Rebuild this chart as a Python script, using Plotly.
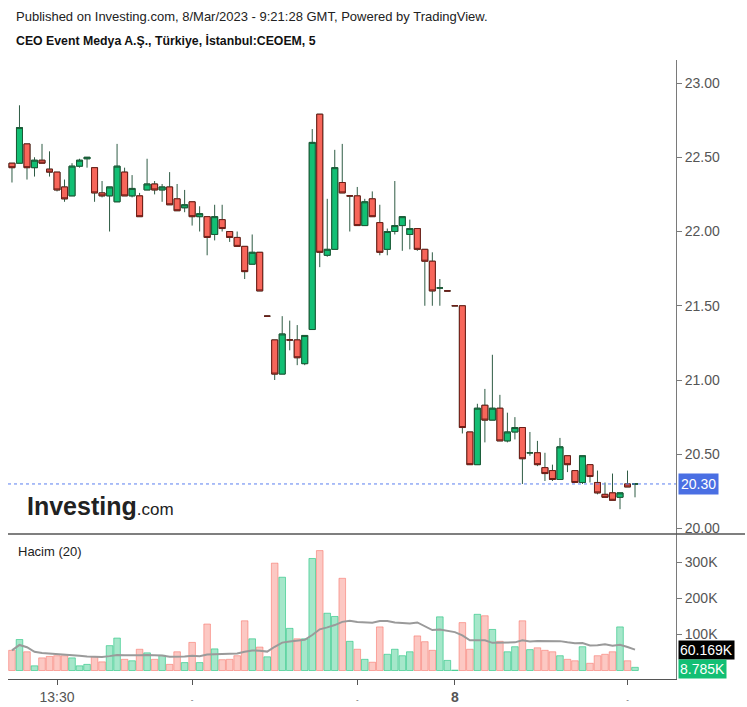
import plotly.graph_objects as go
import pandas as pd

# ---- data (5-minute candles, CEOEM) ----
opens = [22.46, 22.46, 22.59, 22.43, 22.48, 22.42, 22.40, 22.30, 22.24, 22.44,
         22.49, 22.43, 22.26, 22.24, 22.20, 22.40, 22.24, 22.24, 22.28, 22.32,
         22.28, 22.30, 22.22, 22.16, 22.20, 22.10, 22.10, 21.98, 22.08, 22.00,
         21.96, 21.90, 21.78, 21.86, 21.43, 21.27, 21.04, 21.27, 21.27, 21.11,
         21.34, 22.79, 21.84, 21.88, 22.33, 22.24, 22.24, 22.04, 22.22, 22.06,
         21.88, 22.00, 22.04, 21.98, 22.02, 21.88, 21.80, 21.62, 21.60, 21.50,
         21.50, 20.65, 20.43, 20.83, 20.73, 20.81, 20.59, 20.65, 20.68, 20.51,
         20.51, 20.41, 20.39, 20.33, 20.49, 20.39, 20.31, 20.43, 20.31, 20.23,
         20.24, 20.21, 20.30, 20.30]
highs = [22.46, 22.85, 22.59, 22.50, 22.59, 22.54, 22.40, 22.35, 22.46, 22.49,
         22.50, 22.43, 22.34, 22.30, 22.59, 22.43, 22.38, 22.26, 22.49, 22.34,
         22.32, 22.40, 22.32, 22.28, 22.20, 22.17, 22.10, 22.18, 22.18, 22.00,
         22.00, 21.90, 21.98, 21.86, 21.43, 21.27, 21.43, 21.40, 21.37, 21.30,
         22.69, 22.79, 22.22, 22.55, 22.59, 22.24, 22.30, 22.22, 22.27, 22.18,
         22.02, 22.34, 22.10, 22.08, 22.02, 21.88, 21.86, 21.68, 21.60, 21.50,
         21.50, 20.65, 20.84, 20.94, 21.17, 20.90, 20.78, 20.75, 20.68, 20.65,
         20.59, 20.51, 20.43, 20.61, 20.49, 20.39, 20.49, 20.43, 20.39, 20.31,
         20.37, 20.24, 20.39, 20.30]
lows = [22.33, 22.46, 22.35, 22.37, 22.46, 22.37, 22.27, 22.20, 22.24, 22.43,
        22.43, 22.20, 22.23, 22.00, 22.20, 22.24, 22.23, 22.10, 22.28, 22.25,
        22.20, 22.18, 22.14, 22.13, 22.04, 22.00, 21.84, 21.94, 22.00, 21.93,
        21.90, 21.68, 21.78, 21.60, 21.43, 21.00, 21.04, 21.20, 21.10, 21.10,
        21.34, 21.76, 21.83, 21.88, 22.26, 22.00, 22.04, 22.04, 22.10, 21.84,
        21.84, 21.98, 21.87, 21.88, 21.87, 21.50, 21.50, 21.50, 21.60, 21.50,
        20.64, 20.43, 20.43, 20.58, 20.73, 20.59, 20.58, 20.60, 20.30, 20.49,
        20.42, 20.32, 20.32, 20.33, 20.38, 20.31, 20.30, 20.31, 20.23, 20.21,
        20.19, 20.13, 20.28, 20.21]
closes = [22.43, 22.70, 22.43, 22.48, 22.46, 22.40, 22.28, 22.22, 22.44, 22.48,
          22.50, 22.26, 22.24, 22.30, 22.44, 22.24, 22.29, 22.10, 22.32, 22.28,
          22.30, 22.18, 22.14, 22.18, 22.10, 22.12, 21.96, 22.10, 22.02, 21.96,
          21.90, 21.73, 21.86, 21.60, 21.43, 21.04, 21.31, 21.27, 21.15, 21.30,
          22.60, 21.86, 21.88, 22.43, 22.26, 22.24, 22.04, 22.20, 22.10, 21.86,
          22.00, 22.04, 22.10, 22.02, 21.88, 21.80, 21.60, 21.62, 21.60, 21.50,
          20.68, 20.43, 20.81, 20.73, 20.81, 20.59, 20.65, 20.68, 20.47, 20.51,
          20.43, 20.37, 20.33, 20.55, 20.43, 20.31, 20.49, 20.35, 20.24, 20.21,
          20.19, 20.24, 20.28, 20.30]
volumes_k = [56, 86, 52, 13, 35, 39, 41, 41, 35, 13,
             17, 38, 24, 69, 90, 31, 27, 59, 49, 31,
             42, 17, 52, 22, 78, 22, 129, 60, 30, 31,
             41, 138, 88, 65, 38, 298, 259, 117, 88, 88,
             311, 333, 159, 150, 256, 81, 59, 31, 23, 121,
             45, 59, 41, 52, 96, 80, 56, 149, 28, 1,
             133, 59, 156, 152, 114, 81, 52, 66, 138, 58,
             63, 56, 52, 41, 31, 27, 66, 20, 41, 45,
             52, 121, 27, 8.785]

x_tick_pos = [6, 24, 46, 59, 82]
x_tick_text = ["13:30",
               "<span style='font-size:8px'>-</span>",
               "<span style='font-size:8px'>-</span>",
               "<b>8</b>",
               "<span style='font-size:8px'>-</span>"]
price_ticks = [20.0, 20.5, 21.0, 21.5, 22.0, 22.5, 23.0]
vol_ticks = [100, 200, 300]
vol_tick_text = ["100K", "200K", "300K"]
last_price = 20.30
ma_label = "60.169K"
vol_label = "8.785K"

# ---- derived ----
n = len(closes)
xs = list(range(n))
up = [c >= o for o, c in zip(opens, closes)]
body_hi = [max(o, c) for o, c in zip(opens, closes)]
body_lo = [min(o, c) for o, c in zip(opens, closes)]
vol_ma = pd.Series(volumes_k).rolling(20, min_periods=1).mean().tolist()

GREEN = "#12bf74"
RED = "#f7665a"
WICK = "#2f5c45"
FONT = "Liberation Sans, Arial, sans-serif"

fig = go.Figure()

fig.add_trace(go.Candlestick(
    x=xs, open=opens, high=highs, low=lows, close=closes,
    increasing=dict(line=dict(color=WICK, width=1), fillcolor=GREEN),
    decreasing=dict(line=dict(color=WICK, width=1), fillcolor=RED),
    whiskerwidth=0, hoverinfo="skip", showlegend=False,
    xaxis="x", yaxis="y"))
fig.add_trace(go.Candlestick(
    x=xs, open=opens, high=body_hi, low=body_lo, close=closes,
    increasing=dict(line=dict(color="#1b5a36", width=1), fillcolor=GREEN),
    decreasing=dict(line=dict(color="#6e1c16", width=1), fillcolor=RED),
    whiskerwidth=0, hoverinfo="skip", showlegend=False,
    xaxis="x", yaxis="y"))

vol_fill = ["rgba(18,191,116,0.38)" if u else "rgba(247,102,90,0.36)" for u in up]
vol_line = ["rgba(18,191,116,0.55)" if u else "rgba(247,102,90,0.5)" for u in up]
fig.add_trace(go.Bar(
    x=xs, y=volumes_k, marker=dict(color=vol_fill, line=dict(color=vol_line, width=1)),
    showlegend=False, hoverinfo="skip", xaxis="x", yaxis="y2"))
fig.add_trace(go.Scatter(
    x=xs, y=vol_ma, mode="lines", line=dict(color="#9a9a9a", width=2),
    showlegend=False, hoverinfo="skip", xaxis="x", yaxis="y2"))

W, H = 747, 707
ml, mr, mt, mb = 8, 71, 60, 28
pw = W - ml - mr
ph = H - mt - mb
vol_frac = 145 / ph

fig.update_layout(
    width=W, height=H,
    margin=dict(l=ml, r=mr, t=mt, b=mb, autoexpand=False),
    paper_bgcolor="white", plot_bgcolor="white",
    font=dict(family=FONT, size=14, color="#555555"),
    boxgap=0.2, boxgroupgap=0, bargap=0.12,
    showlegend=False,
    xaxis=dict(domain=[0, 1], anchor="y2", range=[-0.53, 88.46], automargin=False,
               rangeslider=dict(visible=False),
               showgrid=False, zeroline=False,
               showline=True, linecolor="#555555", linewidth=1,
               ticks="outside", ticklen=5, tickcolor="#555555",
               tickmode="array", tickvals=x_tick_pos, ticktext=x_tick_text,
               tickfont=dict(size=14, color="#555555")),
    yaxis=dict(domain=[vol_frac, 1], anchor="x", side="right", automargin=False,
               range=[19.963, 23.155],
               showgrid=False, zeroline=False,
               showline=True, linecolor="#7a7a7a", linewidth=1,
               ticks="outside", ticklen=5, tickcolor="#7a7a7a",
               tickvals=price_ticks, tickformat=".2f",
               tickfont=dict(size=14, color="#555555")),
    yaxis2=dict(domain=[0, vol_frac], anchor="x", side="right", automargin=False,
                range=[-23.6, 379],
                showgrid=False, zeroline=False,
                showline=True, linecolor="#7a7a7a", linewidth=1,
                ticks="outside", ticklen=5, tickcolor="#7a7a7a",
                tickvals=vol_ticks, ticktext=vol_tick_text,
                tickfont=dict(size=14, color="#555555")),
)

# volume pane clips the bottom of the lowest price label
fig.add_shape(type="rect", xref="paper", yref="paper", layer="above",
              x0=(678 - ml) / pw, x1=(747 - ml) / pw,
              y0=(679 - 546) / ph, y1=vol_frac,
              fillcolor="white", line=dict(width=0))
fig.add_shape(type="line", xref="paper", yref="paper", layer="above",
              x0=0, x1=(745 - ml) / pw, y0=vol_frac, y1=vol_frac,
              line=dict(color="#555555", width=1.5))
fig.add_shape(type="line", xref="paper", yref="y",
              x0=0, x1=1, y0=last_price, y1=last_price,
              line=dict(color="#5b7ff0", width=1, dash="dot"))

anns = []
anns.append(dict(text="Published on Investing.com, 8/Mar/2023 - 9:21:28 GMT, Powered by TradingView.",
                 xref="paper", yref="paper", x=6 / pw, y=1 + (60 - 17) / ph,
                 xanchor="left", yanchor="middle", showarrow=False,
                 font=dict(size=13, color="#222222", family=FONT)))
anns.append(dict(text="<b>CEO Event Medya A.Ş., Türkiye, İstanbul:CEOEM, 5</b>",
                 xref="paper", yref="paper", x=6 / pw, y=1 + (60 - 40) / ph,
                 xanchor="left", yanchor="middle", showarrow=False,
                 font=dict(size=12.3, color="#111111", family=FONT)))
anns.append(dict(text="<b>Investing</b><span style='font-size:17px'>.com</span>",
                 xref="paper", yref="paper", x=17 / pw, y=(679 - 506) / ph,
                 xanchor="left", yanchor="middle", showarrow=False,
                 font=dict(size=25, color="#222222", family=FONT)))
anns.append(dict(text="Hacim (20)", xref="paper", yref="paper",
                 x=8 / pw, y=(679 - 551) / ph, xanchor="left", yanchor="middle",
                 showarrow=False, font=dict(size=13, color="#222222", family=FONT)))
anns.append(dict(text=f"{last_price:.2f}", xref="paper", yref="y", x=1, y=last_price,
                 xanchor="left", yanchor="middle", xshift=2, showarrow=False,
                 bgcolor="#4a6fe3", borderpad=2,
                 font=dict(size=14, color="white", family=FONT)))
anns.append(dict(text=ma_label, xref="paper", yref="y2", x=1, y=vol_ma[-1],
                 xanchor="left", yanchor="middle", xshift=2, showarrow=False,
                 bgcolor="#000000", borderpad=1,
                 font=dict(size=14, color="white", family=FONT)))
anns.append(dict(text=vol_label, xref="paper", yref="y2", x=1, y=volumes_k[-1],
                 xanchor="left", yanchor="middle", xshift=2, yshift=-2, showarrow=False,
                 bgcolor="#12bf74", borderpad=1,
                 font=dict(size=14, color="white", family=FONT)))
fig.update_layout(annotations=anns)

fig.write_html("out.html", config={"displayModeBar": False},
               post_script="document.body.style.margin='0';")
